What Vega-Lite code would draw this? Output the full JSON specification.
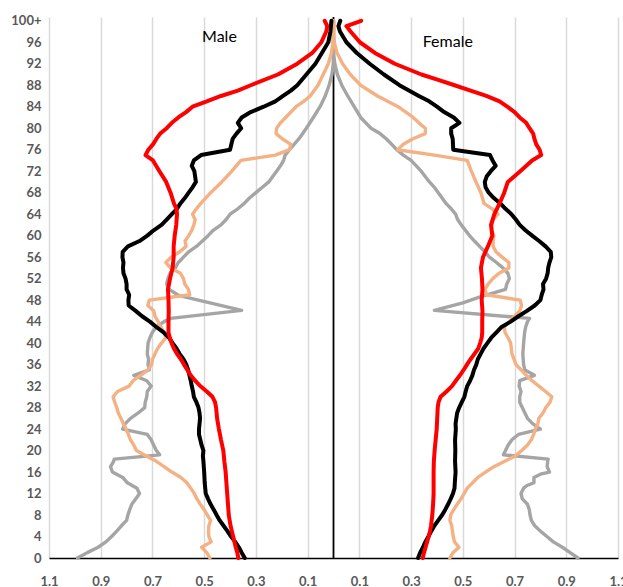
{
"$schema":"https://vega.github.io/schema/vega-lite/v6.json",
"width":569,"height":541,
"autosize":{"type":"none"},
"padding":{"left":49,"top":17,"right":5,"bottom":29},
"config":{"view":{"stroke":null},"font":"Lato"},
"datasets":{
"gray":[
{"a":0,"m":-0.99,"f":0.945},{"a":1,"m":-0.952,"f":0.915},{"a":2,"m":-0.91,"f":0.885},{"a":3,"m":-0.88,"f":0.85},{"a":4,"m":-0.858,"f":0.825},{"a":5,"m":-0.838,"f":0.80},{"a":6,"m":-0.82,"f":0.778},{"a":7,"m":-0.80,"f":0.765},{"a":8,"m":-0.795,"f":0.76},{"a":9,"m":-0.788,"f":0.757},{"a":10,"m":-0.78,"f":0.75},{"a":11,"m":-0.765,"f":0.73},{"a":12,"m":-0.75,"f":0.725},{"a":13,"m":-0.76,"f":0.735},{"a":13.5,"f":0.748},{"a":14,"m":-0.797,"f":0.775},{"a":15,"m":-0.815,"f":0.775},{"a":15.6,"f":0.80},{"a":16,"m":-0.855,"f":0.835},{"a":17,"m":-0.862,"f":0.826},{"a":18,"m":-0.85,"f":0.828},{"a":18.4,"m":-0.848,"f":0.83},{"a":19.2,"m":-0.672,"f":0.657},{"a":20,"m":-0.685,"f":0.665},{"a":21,"m":-0.695,"f":0.675},{"a":22,"m":-0.705,"f":0.69},{"a":23,"m":-0.72,"f":0.715},{"a":24,"m":-0.815,"f":0.80},{"a":25,"m":-0.805,"f":0.77},{"a":26,"m":-0.785,"f":0.75},{"a":27,"m":-0.755,"f":0.74},{"a":28,"m":-0.73,"f":0.73},{"a":29,"m":-0.728,"f":0.72},{"a":30,"m":-0.722,"f":0.72},{"a":31,"m":-0.72,"f":0.725},{"a":32,"m":-0.705,"f":0.718},{"a":33,"m":-0.722,"f":0.72},{"a":34,"m":-0.772,"f":0.777},{"a":35,"m":-0.712,"f":0.74},{"a":36,"m":-0.717,"f":0.735},{"a":37,"m":-0.715},{"a":38,"m":-0.72,"f":0.732},{"a":40,"m":-0.717,"f":0.735},{"a":41,"m":-0.71},{"a":42,"m":-0.70,"f":0.739},{"a":43,"m":-0.685,"f":0.743},{"a":44,"m":-0.655,"f":0.75},{"a":44.6,"m":-0.63,"f":0.758},{"a":46.1,"m":-0.355,"f":0.39},{"a":47.5,"f":0.50},{"a":48.6,"f":0.567},{"a":48.9,"m":-0.60},{"a":50,"m":-0.635,"f":0.665},{"a":51,"m":-0.645,"f":0.67},{"a":52,"m":-0.64,"f":0.68},{"a":53,"m":-0.632,"f":0.674},{"a":54,"m":-0.612,"f":0.655},{"a":55,"m":-0.60,"f":0.63},{"a":56,"m":-0.58,"f":0.603},{"a":57,"m":-0.56,"f":0.585},{"a":58,"m":-0.53,"f":0.565},{"a":59,"f":0.545},{"a":60,"m":-0.485,"f":0.526},{"a":61,"m":-0.465,"f":0.51},{"a":62,"m":-0.435,"f":0.494},{"a":63,"m":-0.415,"f":0.48},{"a":64,"m":-0.40,"f":0.472},{"a":65,"m":-0.37,"f":0.455},{"a":66,"m":-0.345,"f":0.435},{"a":67,"m":-0.325,"f":0.42},{"a":68,"m":-0.30,"f":0.405},{"a":69,"m":-0.275,"f":0.39},{"a":70,"m":-0.25,"f":0.371},{"a":71,"m":-0.235},{"a":72,"m":-0.22,"f":0.339},{"a":73,"m":-0.205,"f":0.32},{"a":74,"m":-0.193,"f":0.30},{"a":75,"m":-0.187,"f":0.27},{"a":76,"m":-0.17,"f":0.245},{"a":77,"f":0.225},{"a":78,"m":-0.134,"f":0.205},{"a":79,"f":0.18},{"a":80,"m":-0.105,"f":0.145},{"a":82,"m":-0.078,"f":0.105},{"a":84,"m":-0.052,"f":0.08},{"a":86,"m":-0.032,"f":0.055},{"a":88,"m":-0.017,"f":0.032},{"a":90,"m":-0.006,"f":0.015},{"a":92,"m":-0.001,"f":0.005},{"a":94,"m":0,"f":0},{"a":100,"m":0,"f":0}
],
"orange":[
{"a":0,"m":-0.478,"f":0.45},{"a":1,"m":-0.49,"f":0.462},{"a":2,"m":-0.51,"f":0.485},{"a":3,"m":-0.473,"f":0.468},{"a":4,"m":-0.482,"f":0.463},{"a":5,"m":-0.483,"f":0.46},{"a":6,"m":-0.482,"f":0.457},{"a":7,"m":-0.475,"f":0.45},{"a":8,"m":-0.488,"f":0.453},{"a":9,"m":-0.50,"f":0.465},{"a":10,"m":-0.515,"f":0.478},{"a":11,"m":-0.528,"f":0.493},{"a":12,"m":-0.538,"f":0.505},{"a":13,"m":-0.552,"f":0.517},{"a":14,"m":-0.567,"f":0.538},{"a":15,"m":-0.59,"f":0.558},{"a":16,"m":-0.625,"f":0.588},{"a":17,"m":-0.655,"f":0.62},{"a":18,"m":-0.685,"f":0.662},{"a":19,"m":-0.724,"f":0.703},{"a":20,"m":-0.762,"f":0.728},{"a":21,"m":-0.772,"f":0.749},{"a":22,"m":-0.785,"f":0.765},{"a":23,"m":-0.793,"f":0.774},{"a":24,"m":-0.802,"f":0.78},{"a":25,"m":-0.812,"f":0.79},{"a":26,"m":-0.822,"f":0.794},{"a":27,"m":-0.832,"f":0.81},{"a":28,"m":-0.838,"f":0.821},{"a":29,"m":-0.846,"f":0.837},{"a":30,"m":-0.852,"f":0.844},{"a":31,"m":-0.835,"f":0.82},{"a":32,"m":-0.79,"f":0.794},{"a":33,"m":-0.775,"f":0.768},{"a":34,"m":-0.745,"f":0.745},{"a":35,"m":-0.718,"f":0.726},{"a":36,"m":-0.703,"f":0.706},{"a":37,"m":-0.70},{"a":38,"m":-0.69,"f":0.69},{"a":39,"m":-0.68},{"a":40,"m":-0.665,"f":0.685},{"a":41,"m":-0.648,"f":0.675},{"a":42,"m":-0.655,"f":0.663},{"a":43,"m":-0.668,"f":0.66},{"a":44,"m":-0.678,"f":0.68},{"a":45,"m":-0.69,"f":0.70},{"a":46,"m":-0.695,"f":0.72},{"a":47,"m":-0.718,"f":0.727},{"a":48,"m":-0.712,"f":0.722},{"a":49,"m":-0.556,"f":0.592},{"a":50,"m":-0.561,"f":0.585},{"a":51,"m":-0.575,"f":0.598},{"a":52,"m":-0.58,"f":0.616},{"a":53,"m":-0.592,"f":0.64},{"a":54,"m":-0.63,"f":0.678},{"a":55,"m":-0.648,"f":0.678},{"a":56,"m":-0.628,"f":0.652},{"a":57,"m":-0.594,"f":0.628},{"a":58,"m":-0.57,"f":0.617},{"a":59,"m":-0.574,"f":0.617},{"a":60,"m":-0.56,"f":0.62},{"a":61,"m":-0.548,"f":0.611},{"a":62,"m":-0.54,"f":0.612},{"a":63,"m":-0.535,"f":0.617},{"a":64,"m":-0.545,"f":0.636},{"a":65,"m":-0.53,"f":0.613},{"a":66,"m":-0.513,"f":0.582},{"a":68,"m":-0.475,"f":0.57},{"a":70,"m":-0.432,"f":0.551},{"a":72,"m":-0.393,"f":0.533},{"a":74,"m":-0.358,"f":0.517},{"a":75,"m":-0.225,"f":0.39},{"a":76,"m":-0.17,"f":0.248},{"a":77,"m":-0.165,"f":0.27},{"a":78,"m":-0.197,"f":0.305},{"a":79,"m":-0.222,"f":0.355},{"a":80,"m":-0.22,"f":0.355},{"a":81,"m":-0.205,"f":0.33},{"a":82,"m":-0.185,"f":0.308},{"a":83,"m":-0.165},{"a":84,"m":-0.145,"f":0.25},{"a":85,"m":-0.115},{"a":86,"m":-0.09,"f":0.17},{"a":88,"m":-0.06,"f":0.105},{"a":90,"m":-0.04,"f":0.065},{"a":92,"m":-0.02,"f":0.035},{"a":94,"m":-0.008,"f":0.014},{"a":96,"m":-0.002,"f":0.003},{"a":98,"m":0,"f":0},{"a":100,"m":0,"f":0}
],
"black":[
{"a":0,"m":-0.343,"f":0.327},{"a":1,"m":-0.355,"f":0.335},{"a":2,"m":-0.366,"f":0.346},{"a":3,"m":-0.38,"f":0.355},{"a":4,"m":-0.396,"f":0.367},{"a":5,"m":-0.41,"f":0.378},{"a":6,"m":-0.425,"f":0.39},{"a":7,"m":-0.44,"f":0.405},{"a":8,"m":-0.452,"f":0.42},{"a":9,"m":-0.463,"f":0.432},{"a":10,"m":-0.475,"f":0.443},{"a":11,"m":-0.485,"f":0.453},{"a":12,"m":-0.494,"f":0.462},{"a":13,"f":0.468},{"a":14,"m":-0.498,"f":0.469},{"a":16,"m":-0.50,"f":0.472},{"a":18,"m":-0.503,"f":0.47},{"a":19,"m":-0.505},{"a":20,"m":-0.503,"f":0.471},{"a":21,"m":-0.51},{"a":22,"m":-0.515,"f":0.47},{"a":23,"m":-0.52},{"a":24,"m":-0.52,"f":0.473},{"a":25,"m":-0.518,"f":0.472},{"a":26,"m":-0.516,"f":0.475},{"a":27,"m":-0.518,"f":0.478},{"a":28,"m":-0.522,"f":0.486},{"a":29,"m":-0.53,"f":0.496},{"a":30,"m":-0.54,"f":0.506},{"a":31,"m":-0.543,"f":0.511},{"a":32,"m":-0.548,"f":0.517},{"a":33,"m":-0.552,"f":0.528},{"a":34,"m":-0.557,"f":0.537},{"a":35,"m":-0.562,"f":0.543},{"a":36,"m":-0.569,"f":0.552},{"a":37,"m":-0.58,"f":0.558},{"a":38,"m":-0.595,"f":0.569},{"a":39,"m":-0.607,"f":0.58},{"a":40,"m":-0.622,"f":0.595},{"a":41,"m":-0.636,"f":0.61},{"a":42,"m":-0.657,"f":0.63},{"a":43,"m":-0.685,"f":0.65},{"a":44,"m":-0.71,"f":0.685},{"a":45,"m":-0.74,"f":0.715},{"a":46,"m":-0.765,"f":0.748},{"a":47,"m":-0.792,"f":0.778},{"a":48,"m":-0.793,"f":0.80},{"a":49,"m":-0.79,"f":0.805},{"a":50,"m":-0.80,"f":0.812},{"a":51,"m":-0.80,"f":0.81},{"a":52,"m":-0.804,"f":0.822},{"a":53,"m":-0.812,"f":0.828},{"a":54,"m":-0.814,"f":0.83},{"a":55,"m":-0.812,"f":0.835},{"a":56,"m":-0.816,"f":0.842},{"a":57,"m":-0.815,"f":0.84},{"a":58,"m":-0.795,"f":0.82},{"a":59,"m":-0.75,"f":0.795},{"a":60,"m":-0.72,"f":0.768},{"a":61,"m":-0.695,"f":0.742},{"a":62,"m":-0.665,"f":0.72},{"a":63,"m":-0.645,"f":0.705},{"a":64,"m":-0.625,"f":0.688},{"a":65,"m":-0.605,"f":0.665},{"a":66,"m":-0.592,"f":0.645},{"a":67,"m":-0.575,"f":0.62},{"a":68,"m":-0.56,"f":0.60},{"a":69,"m":-0.545,"f":0.588},{"a":70,"m":-0.532,"f":0.585},{"a":71,"m":-0.535,"f":0.592},{"a":72,"m":-0.538,"f":0.608},{"a":73,"m":-0.548,"f":0.627},{"a":74,"m":-0.54,"f":0.615},{"a":75,"m":-0.512,"f":0.605},{"a":76,"m":-0.40,"f":0.463},{"a":77,"m":-0.395,"f":0.462},{"a":78,"m":-0.39,"f":0.461},{"a":79,"m":-0.375,"f":0.455},{"a":80,"m":-0.357,"f":0.455},{"a":81,"m":-0.37,"f":0.487},{"a":82,"m":-0.355,"f":0.465},{"a":83,"m":-0.32,"f":0.428},{"a":84,"m":-0.27,"f":0.40},{"a":85,"m":-0.225,"f":0.37},{"a":86,"m":-0.195,"f":0.33},{"a":87,"m":-0.165},{"a":88,"m":-0.14,"f":0.255},{"a":90,"m":-0.105,"f":0.195},{"a":92,"m":-0.07,"f":0.14},{"a":94,"m":-0.045,"f":0.09},{"a":96,"m":-0.02,"f":0.05},{"a":98,"m":-0.012,"f":0.025},{"a":99,"f":0.019},{"a":100,"m":-0.008,"f":0.026}
],
"red":[
{"a":0,"m":-0.368,"f":0.345},{"a":1,"m":-0.372,"f":0.35},{"a":2,"m":-0.378,"f":0.356},{"a":3,"m":-0.383,"f":0.362},{"a":4,"m":-0.388,"f":0.368},{"a":5,"m":-0.393,"f":0.373},{"a":6,"m":-0.398,"f":0.377},{"a":8,"m":-0.405,"f":0.382},{"a":10,"m":-0.408,"f":0.385},{"a":12,"m":-0.411,"f":0.387},{"a":14,"m":-0.414,"f":0.387},{"a":16,"m":-0.417,"f":0.387},{"a":18,"m":-0.422,"f":0.388},{"a":20,"m":-0.426,"f":0.391},{"a":22,"m":-0.435,"f":0.395},{"a":24,"m":-0.443,"f":0.399},{"a":26,"m":-0.45,"f":0.401},{"a":28,"m":-0.454,"f":0.403},{"a":29,"m":-0.458,"f":0.406},{"a":30,"m":-0.468,"f":0.414},{"a":31,"m":-0.49,"f":0.437},{"a":32,"m":-0.515,"f":0.458},{"a":33,"m":-0.535,"f":0.473},{"a":34,"m":-0.552,"f":0.489},{"a":35,"m":-0.565,"f":0.503},{"a":36,"m":-0.578,"f":0.516},{"a":37,"m":-0.59,"f":0.53},{"a":38,"m":-0.605,"f":0.545},{"a":39,"m":-0.617,"f":0.56},{"a":40,"m":-0.626,"f":0.567},{"a":41,"m":-0.633,"f":0.573},{"a":42,"m":-0.638,"f":0.575},{"a":44,"m":-0.638,"f":0.575},{"a":46,"m":-0.637,"f":0.576},{"a":48,"m":-0.638,"f":0.573},{"a":50,"m":-0.64,"f":0.576},{"a":52,"m":-0.632,"f":0.574},{"a":54,"m":-0.622,"f":0.57},{"a":56,"m":-0.618,"f":0.578},{"a":58,"m":-0.618,"f":0.597},{"a":60,"m":-0.614,"f":0.614},{"a":62,"m":-0.608,"f":0.609},{"a":64,"m":-0.605,"f":0.622},{"a":65,"m":-0.607},{"a":66,"m":-0.617,"f":0.642},{"a":68,"m":-0.63,"f":0.66},{"a":70,"m":-0.647,"f":0.674},{"a":72,"m":-0.673,"f":0.722},{"a":74,"m":-0.698,"f":0.768},{"a":75,"m":-0.727,"f":0.803},{"a":76,"m":-0.716,"f":0.797},{"a":77,"m":-0.698,"f":0.784},{"a":78,"m":-0.685,"f":0.777},{"a":79,"m":-0.67,"f":0.772},{"a":80,"m":-0.645,"f":0.758},{"a":81,"m":-0.625,"f":0.745},{"a":82,"m":-0.60,"f":0.72},{"a":83,"m":-0.57,"f":0.70},{"a":84,"m":-0.545,"f":0.672},{"a":85,"m":-0.49,"f":0.642},{"a":86,"m":-0.435,"f":0.591},{"a":87,"m":-0.37,"f":0.53},{"a":88,"m":-0.32,"f":0.468},{"a":89,"f":0.405},{"a":90,"m":-0.215,"f":0.34},{"a":92,"m":-0.14,"f":0.237},{"a":94,"m":-0.082,"f":0.16},{"a":96,"m":-0.047,"f":0.102},{"a":98,"m":-0.028,"f":0.066},{"a":99,"m":-0.024,"f":0.05},{"a":100,"m":-0.034,"f":0.107}
]
},
"encoding":{
"x":{"field":"value","type":"quantitative","scale":{"domain":[-1.1,1.1],"nice":false,"zero":false},
 "axis":{"title":null,"values":[-1.1,-0.9,-0.7,-0.5,-0.3,-0.1,0.1,0.3,0.5,0.7,0.9,1.1],"labelExpr":"format(abs(datum.value),'.1f')","grid":true,"gridColor":"#d9d9d9","gridWidth":1.5,"ticks":false,"tickSize":0,"domainColor":"#000000","domainWidth":1.7,"labelFont":"Lato","labelFontSize":13,"labelFontWeight":"bold","labelColor":"#595959","labelPadding":17,"labelOverlap":false,"labelFlush":false}},
"y":{"field":"a","type":"quantitative","scale":{"domain":[0,100.7],"nice":false,"zero":false},
 "axis":{"title":null,"values":[0,4,8,12,16,20,24,28,32,36,40,44,48,52,56,60,64,68,72,76,80,84,88,92,96,100],"labelExpr":"datum.value==100?'100+':datum.label","grid":false,"ticks":false,"tickSize":0,"domain":false,"labelFont":"Lato","labelFontSize":13,"labelFontWeight":"bold","labelColor":"#595959","labelPadding":8}}
},
"layer":[
{"data":{"values":[{"a":0,"a2":100.7,"value":0}]},"mark":{"type":"rule","color":"#000000","strokeWidth":1.8},"encoding":{"y2":{"field":"a2"}}},
{"data":{"name":"gray"},"transform":[{"fold":["m","f"]},{"filter":"isValid(datum.value)"}],"mark":{"type":"line","color":"#A5A5A5","strokeWidth":3.4,"strokeJoin":"round","strokeCap":"round"},"encoding":{"detail":{"field":"key"},"order":{"field":"a","type":"quantitative"}}},
{"data":{"name":"orange"},"transform":[{"fold":["m","f"]},{"filter":"isValid(datum.value)"}],"mark":{"type":"line","color":"#F4B183","strokeWidth":3.4,"strokeJoin":"round","strokeCap":"round"},"encoding":{"detail":{"field":"key"},"order":{"field":"a","type":"quantitative"}}},
{"data":{"name":"black"},"transform":[{"fold":["m","f"]},{"filter":"isValid(datum.value)"}],"mark":{"type":"line","color":"#000000","strokeWidth":4,"strokeJoin":"round","strokeCap":"round"},"encoding":{"detail":{"field":"key"},"order":{"field":"a","type":"quantitative"}}},
{"data":{"name":"red"},"transform":[{"fold":["m","f"]},{"filter":"isValid(datum.value)"}],"mark":{"type":"line","color":"#FF0000","strokeWidth":4,"strokeJoin":"round","strokeCap":"round"},"encoding":{"detail":{"field":"key"},"order":{"field":"a","type":"quantitative"}}},
{"data":{"values":[{"label":"Male","value":-0.441,"a":96.9},{"label":"Female","value":0.442,"a":96.1}]},"mark":{"type":"text","font":"Lato","fontSize":16,"color":"#000000","align":"center","baseline":"middle"},"encoding":{"text":{"field":"label"}}}
]
}
